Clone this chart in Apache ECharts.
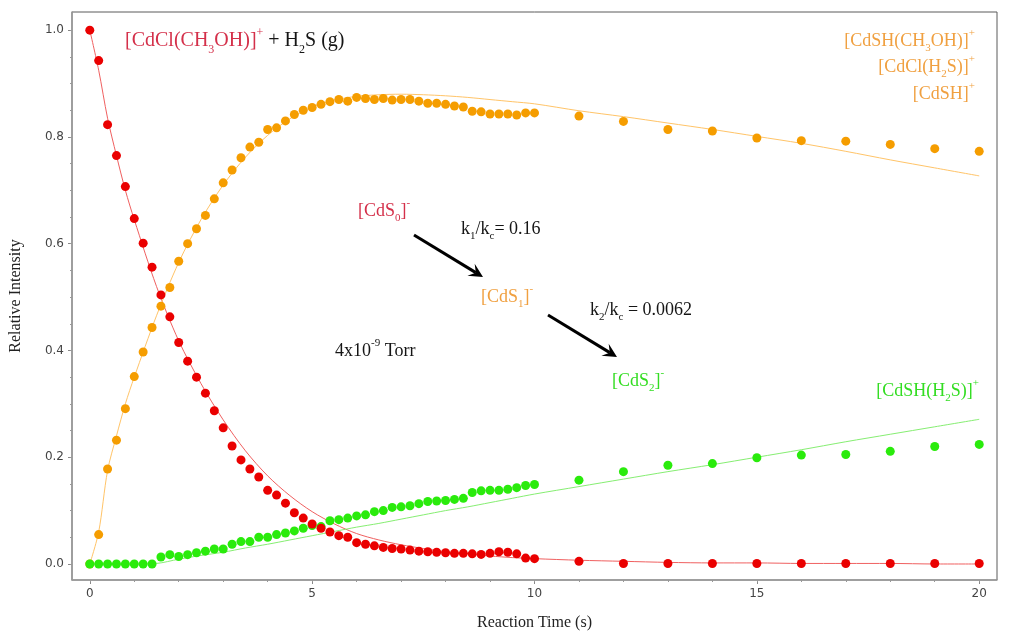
<!DOCTYPE html>
<html>
<head>
<meta charset="utf-8">
<script src="https://cdn.jsdelivr.net/npm/echarts@6/dist/echarts.min.js"></script>
<style>
html,body{margin:0;padding:0;background:#fff;}
#c{width:1009px;height:636px;}
</style>
</head>
<body>
<div id="c"></div>
<script>
// ---- data ----
const times = [0,0.2,0.4,0.6,0.8,1.0,1.2,1.4,1.6,1.8,2.0,2.2,2.4,2.6,2.8,3.0,3.2,3.4,3.6,3.8,
  4.0,4.2,4.4,4.6,4.8,5.0,5.2,5.4,5.6,5.8,6.0,6.2,6.4,6.6,6.8,7.0,7.2,7.4,7.6,7.8,
  8.0,8.2,8.4,8.6,8.8,9.0,9.2,9.4,9.6,9.8,10,11,12,13,14,15,16,17,18,19,20];

const redPts = [1.0,0.943,0.823,0.765,0.707,0.647,0.601,0.556,0.504,0.463,0.415,0.380,0.350,0.320,0.287,0.255,0.221,0.195,0.178,0.163,
  0.138,0.129,0.114,0.096,0.086,0.075,0.067,0.060,0.053,0.050,0.040,0.037,0.034,0.031,0.029,0.028,0.026,0.024,0.023,0.022,
  0.021,0.020,0.020,0.019,0.018,0.020,0.023,0.022,0.019,0.011,0.010,0.005,0.001,0.001,0.001,0.001,0.001,0.001,0.001,0.001,0.001];

const orangePts = [0,0.055,0.178,0.232,0.291,0.351,0.397,0.443,0.483,0.518,0.567,0.600,0.628,0.653,0.684,0.714,0.738,0.761,0.781,0.790,
  0.814,0.817,0.830,0.842,0.850,0.855,0.861,0.866,0.870,0.867,0.874,0.872,0.870,0.872,0.869,0.870,0.870,0.867,0.863,0.863,
  0.861,0.858,0.856,0.848,0.847,0.843,0.843,0.843,0.841,0.845,0.845,0.839,0.829,0.814,0.811,0.798,0.793,0.792,0.786,0.778,0.773];

const greenPts = [0,0,0,0,0,0,0,0,0.013,0.0175,0.014,0.0175,0.021,0.024,0.028,0.028,0.037,0.042,0.042,0.050,
  0.050,0.055,0.058,0.062,0.067,0.072,0.070,0.081,0.083,0.086,0.090,0.092,0.098,0.100,0.106,0.107,0.109,0.113,0.117,0.118,
  0.119,0.121,0.123,0.134,0.137,0.138,0.138,0.140,0.143,0.147,0.149,0.157,0.173,0.185,0.188,0.199,0.204,0.205,0.211,0.220,0.224];

// fitted curves
const fitT = [0,0.2,0.4,0.6,0.8,1,1.5,2,2.5,3,3.5,4,4.5,5,5.5,6,6.5,7,7.5,8,8.5,9,9.5,10,11,12,13,14,15,16,17,18,19,20];
const redFit = [1.0,0.925,0.835,0.765,0.70,0.645,0.52,0.418,0.338,0.27,0.212,0.165,0.128,0.098,0.075,0.057,0.045,0.036,0.029,0.023,0.019,0.015,0.012,0.010,0.007,0.005,0.003,0.002,0.002,0.001,0.001,0.001,0.0,0.0];
const orangeFit = [0,0.06,0.175,0.24,0.30,0.35,0.465,0.565,0.645,0.71,0.762,0.803,0.834,0.856,0.869,0.876,0.879,0.880,0.879,0.877,0.874,0.870,0.866,0.862,0.849,0.838,0.826,0.814,0.801,0.788,0.773,0.757,0.742,0.727];
const greenFit = [0,0,0,0,0,0,0.001,0.009,0.016,0.022,0.030,0.037,0.045,0.053,0.061,0.069,0.076,0.084,0.092,0.100,0.107,0.115,0.123,0.131,0.145,0.159,0.173,0.186,0.200,0.214,0.229,0.243,0.257,0.271];

const xMajor = [0,5,10,15,20];
const xMinor = [0,1,2,3,4,5,6,7,8,9,10,11,12,13,14,15,16,17,18,19,20];
const yMajor = [0,0.2,0.4,0.6,0.8,1.0];
const yMinor = [0,0.05,0.1,0.15,0.2,0.25,0.3,0.35,0.4,0.45,0.5,0.55,0.6,0.65,0.7,0.75,0.8,0.85,0.9,0.95,1.0];

// ---- styling ----
const C_RED = '#ea0000', C_ORA = '#f59d00', C_GRN = '#2aeb0c';
const T_RED = '#d4304a', T_ORA = '#f0a040', T_GRN = '#33dd22', T_BLK = '#151515';
const SERIF = '"Liberation Serif", "Times New Roman", serif';
const SANS = '"DejaVu Sans", sans-serif';

function tok(color, size, lh, va) {
  return {fontFamily: SERIF, fontSize: size, fill: color, color: color, lineHeight: lh, verticalAlign: va};
}
function rich(color, size) {
  const lh = Math.round(size * 1.45);
  const ss = Math.round(size*0.62), sl = Math.round(size*0.75);
  const ps = Math.round(size*0.6), pl = Math.round(size*0.7);
  return {
    n: tok(color, size, lh, 'middle'),
    s: tok(color, ss, sl, 'bottom'),
    p: tok(color, ps, pl, 'top'),
    kn: tok(T_BLK, size, lh, 'middle'),
    ks: tok(T_BLK, ss, sl, 'bottom'),
    kp: tok(T_BLK, ps, pl, 'top')
  };
}
function label(x, y, text, color, size, align) {
  return {
    type: 'text', x: x, y: y, z: 50,
    style: {text: text, fill: color, font: size + 'px ' + SERIF, rich: rich(color, size), align: align || 'left', verticalAlign: 'middle'}
  };
}
function arrow(x1, y1, x2, y2) {
  const ang = Math.atan2(y2 - y1, x2 - x1);
  const L = 14, W = 7;
  const bx = x2 - L*Math.cos(ang), by = y2 - L*Math.sin(ang);
  const nx = -Math.sin(ang), ny = Math.cos(ang);
  const ix = x2 - 0.6*L*Math.cos(ang), iy = y2 - 0.6*L*Math.sin(ang);
  return [
    {type:'line', z:50, shape:{x1:x1,y1:y1,x2:ix,y2:iy}, style:{stroke:'#000', lineWidth:3}},
    {type:'polygon', z:50, shape:{points:[[x2,y2],[bx+nx*W,by+ny*W],[ix,iy],[bx-nx*W,by-ny*W]]}, style:{fill:'#000'}}
  ];
}

const chart = echarts.init(document.getElementById('c'), null, {renderer:'canvas'});

function pts(arr) { return times.map((t,i)=>[t, arr[i]]); }
function fit(arr) { return fitT.map((t,i)=>[t, arr[i]]); }

const option = {
  animation: false,
  backgroundColor: '#fff',
  grid: {left: 71, top: 12, right: 12, bottom: 53, show: true, borderColor: '#5a5a5a', borderWidth: 1},
  xAxis: [{
    type: 'value', min: -0.4, max: 20.4,
    name: 'Reaction Time (s)', nameLocation: 'middle', nameGap: 35,
    nameTextStyle: {fontFamily: SERIF, fontSize: 16, color: '#222'},
    axisLine: {show: true, onZero: false, lineStyle: {color: '#9a9a9a', width: 1.5}},
    axisTick: {show: true, customValues: xMajor, length: 4, lineStyle: {color: '#888'}},
    axisLabel: {customValues: xMajor, fontFamily: SANS, fontSize: 12, color: '#444', margin: 8},
    splitLine: {show: false}
  }, {
    type: 'value', min: -0.4, max: 20.4, position: 'bottom', gridIndex: 0,
    axisLine: {show: false, onZero: false},
    axisTick: {show: true, customValues: xMinor, length: 2, lineStyle: {color: '#999'}},
    axisLabel: {show: false},
    splitLine: {show: false}
  }],
  yAxis: [{
    type: 'value', min: -0.03, max: 1.034,
    name: 'Relative Intensity', nameLocation: 'middle', nameGap: 48, nameRotate: 90,
    nameTextStyle: {fontFamily: SERIF, fontSize: 16, color: '#222'},
    axisLine: {show: true, onZero: false, lineStyle: {color: '#9a9a9a', width: 1.5}},
    axisTick: {show: true, customValues: yMajor, length: 4, lineStyle: {color: '#888'}},
    axisLabel: {customValues: yMajor, formatter: v => v.toFixed(1), fontFamily: SANS, fontSize: 12, color: '#444', margin: 8},
    splitLine: {show: false}
  }, {
    type: 'value', min: -0.03, max: 1.034, position: 'left', gridIndex: 0,
    axisLine: {show: false, onZero: false},
    axisTick: {show: true, customValues: yMinor, length: 2, lineStyle: {color: '#999'}},
    axisLabel: {show: false},
    splitLine: {show: false}
  }],
  series: [
    {type:'line', data: fit(redFit), smooth: 0.3, showSymbol: false, lineStyle: {color:'#f06060', width: 1}, z: 2, silent: true},
    {type:'line', data: fit(orangeFit), smooth: 0.3, showSymbol: false, lineStyle: {color:'#ffc468', width: 1}, z: 2, silent: true},
    {type:'line', data: fit(greenFit), smooth: 0.3, showSymbol: false, lineStyle: {color:'#86ee72', width: 1}, z: 2, silent: true},
    {type:'scatter', data: pts(orangePts), symbolSize: 9, itemStyle: {color: C_ORA, opacity: 1}, z: 3},
    {type:'scatter', data: pts(greenPts), symbolSize: 9, itemStyle: {color: C_GRN, opacity: 1}, z: 4},
    {type:'scatter', data: pts(redPts), symbolSize: 9, itemStyle: {color: C_RED, opacity: 1}, z: 5}
  ],
  graphic: [
    label(125, 41, '{n|[CdCl(CH}{s|3}{n|OH)]}{p|+}{kn| + H}{ks|2}{kn|S (g)}', T_RED, 20, 'left'),
    label(975, 41, '{n|[CdSH(CH}{s|3}{n|OH)]}{p|+}', T_ORA, 18, 'right'),
    label(975, 67, '{n|[CdCl(H}{s|2}{n|S)]}{p|+}', T_ORA, 18, 'right'),
    label(975, 94, '{n|[CdSH]}{p|+}', T_ORA, 18, 'right'),
    label(358, 211, '{n|[CdS}{s|0}{n|]}{p|-}', T_RED, 18, 'left'),
    label(461, 229, '{kn|k}{ks|1}{kn|/k}{ks|c}{kn|= 0.16}', T_BLK, 18, 'left'),
    label(481, 297, '{n|[CdS}{s|1}{n|]}{p|-}', T_ORA, 18, 'left'),
    label(590, 310, '{kn|k}{ks|2}{kn|/k}{ks|c}{kn| = 0.0062}', T_BLK, 18, 'left'),
    label(335, 351, '{kn|4x10}{kp|-9}{kn| Torr}', T_BLK, 18, 'left'),
    label(612, 381, '{n|[CdS}{s|2}{n|]}{p|-}', T_GRN, 18, 'left'),
    label(979, 391, '{n|[CdSH(H}{s|2}{n|S)]}{p|+}', T_GRN, 18, 'right')
  ].concat(arrow(414, 235, 483, 277)).concat(arrow(548, 315, 617, 357))
};

chart.setOption(option);
</script>
</body>
</html>
